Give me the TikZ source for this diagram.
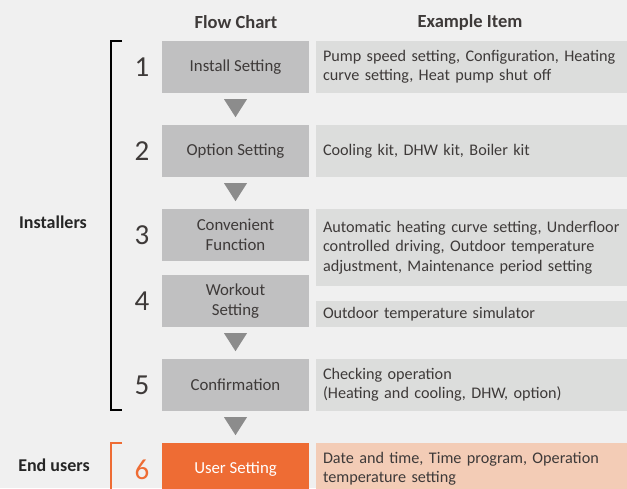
\documentclass[tikz,border=0pt]{standalone}
\usepackage{fontspec}
\setmainfont{Carlito}
\usetikzlibrary{calc}
\definecolor{bgc}{HTML}{F0F0F0}
\definecolor{flowc}{HTML}{C0C0C1}
\definecolor{itemc}{HTML}{DCDDDC}
\definecolor{arrc}{HTML}{8C8C8C}
\definecolor{orng}{HTML}{EE6C34}
\definecolor{lorng}{HTML}{F3CCB6}
\definecolor{txtc}{HTML}{3E3A39}
\begin{document}
\begin{tikzpicture}[x=1pt,y=-1pt,
  flowbox/.style={fill=flowc,minimum width=147pt,inner sep=0pt,align=center,text=txtc,font=\fontsize{16.8}{20}\selectfont},
  itembox/.style={fill=itemc,minimum width=311pt,text width=297pt,inner xsep=7pt,inner ysep=0pt,align=left,text=txtc,font=\fontsize{16.2}{19.3}\selectfont},
  numlab/.style={text=txtc,font=\fontsize{29}{30}\selectfont},
  headlab/.style={text=txtc,font=\bfseries\fontsize{18.5}{21}\selectfont},
  sidelab/.style={text=black!85,font=\bfseries\fontsize{18}{21}\selectfont},
  tri/.style={fill=arrc},
  brk/.style={line width=1.3pt}]
\fill[bgc] (0,0) rectangle (627,488);
\useasboundingbox (0,0) rectangle (627,488);
\begin{scope}
\clip (0,0) rectangle (627,488);
% headers
\node[headlab] (h1) at (236,22) {Flow Chart};
\node[headlab] (h2) at (470,22) {Example Item};
% flow boxes
\node[flowbox,minimum height=52pt] (b1) at (235.5,67) {Install Setting};
\node[flowbox,minimum height=52pt] (b2) at (235.5,151) {Option Setting};
\node[flowbox,minimum height=52pt] (b3) at (235.5,235) {Convenient\\Function};
\node[flowbox,minimum height=52pt] (b4) at (235.5,301) {Workout\\Setting};
\node[flowbox,minimum height=52pt] (b5) at (235.5,385) {Confirmation};
\node[flowbox,minimum height=52pt,fill=orng,text=white] (b6) at (235.5,469) {User Setting};
% item boxes
\node[itembox,minimum height=52pt] (i1) at (471.5,67) {Pump speed setting, Configuration, Heating\\curve setting, Heat pump shut off};
\node[itembox,minimum height=52pt] (i2) at (471.5,151) {Cooling kit, DHW kit, Boiler kit};
\node[itembox,minimum height=77pt] (i3) at (471.5,247.5) {Automatic heating curve setting, Underfloor\\controlled driving, Outdoor temperature\\adjustment, Maintenance period setting};
\node[itembox,minimum height=26pt] (i4) at (471.5,314) {Outdoor temperature simulator};
\node[itembox,minimum height=52pt] (i5) at (471.5,385) {Checking operation\\(Heating and cooling, DHW, option)};
\node[itembox,minimum height=52pt,fill=lorng] (i6) at (471.5,469) {Date and time, Time program, Operation\\temperature setting};
% numbers
\node[numlab] (n1) at (142,67) {1};
\node[numlab] (n2) at (142,151) {2};
\node[numlab] (n3) at (142,235) {3};
\node[numlab] (n4) at (142,301) {4};
\node[numlab] (n5) at (142,385) {5};
\node[numlab,text=orng] (n6) at (142,470) {6};
% arrows
\foreach \a in {b1,b2,b4,b5}{
  \fill[tri] ($(\a.south)+(-11.5,6)$) -- ($(\a.south)+(11.5,6)$) -- ($(\a.south)+(0,24)$) -- cycle;
}
% side labels
\node[sidelab] (s1) at (53,222) {Installers};
\node[sidelab] (s2) at (54,465) {End users};
% brackets
\coordinate (k1) at (122,41);
\coordinate (k2) at (122,410);
\coordinate (k3) at (122,443);
\coordinate (k4) at (111,500);
\draw[brk] (k1) -- (111,41) -- (111,410) -- (k2);
\draw[brk,orng] (k3) -- (111,443) -- (k4);
\end{scope}
\end{tikzpicture}
\end{document}
